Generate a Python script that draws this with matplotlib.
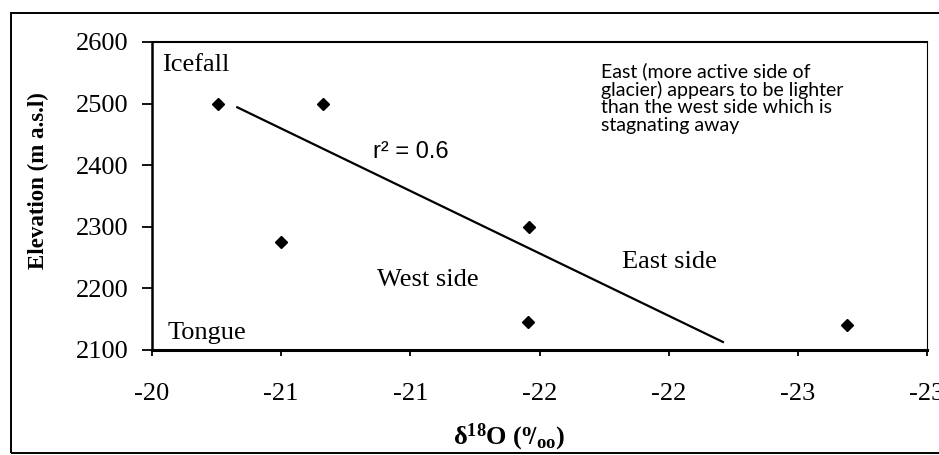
import matplotlib
matplotlib.use("Agg")
import matplotlib.pyplot as plt
from matplotlib.patches import Rectangle

plt.rcParams['font.family'] = ['Liberation Serif', 'DejaVu Serif']
plt.rcParams['mathtext.fontset'] = 'custom'
plt.rcParams['mathtext.rm'] = 'Liberation Serif'
plt.rcParams['mathtext.bf'] = 'Liberation Serif:bold'
plt.rcParams['mathtext.it'] = 'Liberation Serif:italic'

# delta 18O samples vs elevation
d18o = [-20.255, -20.66, -20.5, -21.46, -21.455, -22.69]
elev = [2500, 2500, 2275, 2300, 2145, 2140]

# trend line as drawn on the original
trend_x = [-20.33, -22.21]
trend_y = [2494, 2113]

xticks = [-20, -20.5, -21, -21.5, -22, -22.5, -23]
xtick_labels = ['-20', '-21', '-21', '-22', '-22', '-23', '-23']
yticks = [2100, 2200, 2300, 2400, 2500, 2600]

note = ("East (more active side of\nglacier) appears to be lighter\n"
        "than the west side which is\nstagnating away")

fig = plt.figure(figsize=(9.39, 4.55), dpi=100)
ax = fig.add_axes([0.1619, 0.2308, 0.8253, 0.6769])

ax.plot(d18o, elev, linestyle='none', marker='D', markersize=6.5,
        color='black', zorder=3)
ax.plot(trend_x, trend_y, color='black', linewidth=1.6, zorder=2)

ax.set_xlim(-20, -23)
ax.set_ylim(2100, 2600)
ax.set_xticks(xticks)
ax.set_xticklabels(xtick_labels)
ax.set_yticks(yticks)

ax.tick_params(axis='y', direction='out', length=7, width=1.3,
               pad=10, labelsize=19)
ax.tick_params(axis='x', direction='out', length=4.5, width=1.3,
               pad=19, labelsize=19)

ax.spines['left'].set_linewidth(1.8)
ax.spines['bottom'].set_linewidth(2.2)
ax.spines['top'].set_linewidth(1.5)
ax.spines['right'].set_linewidth(0.8)

ax.set_ylabel('Elevation (m a.s.l)', fontsize=16.5, fontweight='bold',
              va='center')
ax.yaxis.set_label_coords(-0.147, 0.55)
ax.set_xlabel(r'$\mathbf{δ^{18}O\ (^{o}\!/_{oo})}$', fontsize=19,
              va='center')
ax.xaxis.set_label_coords(0.461, -0.282)

ax.text(-20.04, 2563, 'Icefall', fontsize=19, va='center', ha='left')
ax.text(-20.06, 2128, 'Tongue', fontsize=19, va='center', ha='left')
ax.text(-20.87, 2214, 'West side', fontsize=19, va='center', ha='left')
ax.text(-21.82, 2243, 'East side', fontsize=19, va='center', ha='left')
ax.text(-20.855, 2421, 'r² = 0.6', fontsize=17, va='center', ha='left',
        family=['Liberation Sans', 'DejaVu Sans'])
ax.text(-21.74, 2567, note, fontsize=14, va='top', ha='left',
        linespacing=1.03, family=['Lato', 'DejaVu Sans'])

# outer chart frame
fig.patches.append(Rectangle((0.0117, 0.0044), 1.0, 0.967, fill=False,
                             linewidth=1.4, edgecolor='black',
                             transform=fig.transFigure, figure=fig))

fig.savefig('out.png', dpi=100)
